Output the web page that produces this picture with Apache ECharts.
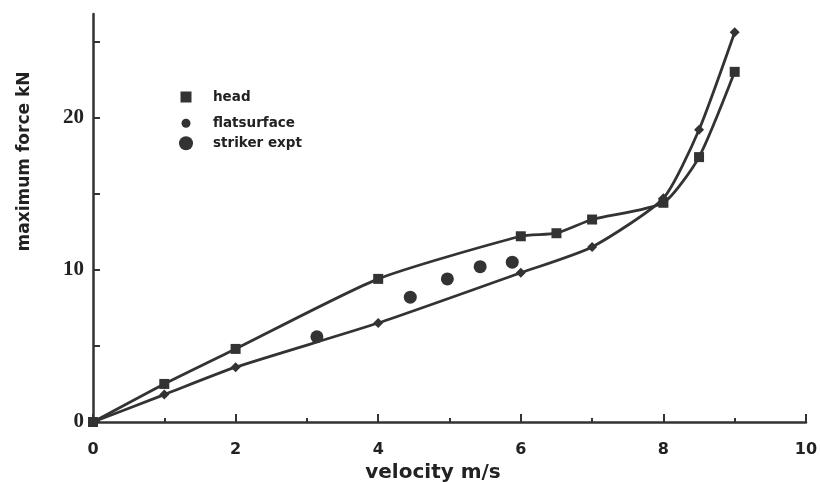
<!DOCTYPE html>
<html>
<head>
<meta charset="utf-8">
<script src="https://cdn.jsdelivr.net/npm/echarts@6/dist/echarts.min.js"></script>
<style>
html,body{margin:0;padding:0;background:#fff;}
#c{width:820px;height:482px;}
</style>
</head>
<body>
<div id="c"></div>
<script>
// Data
var headData = [[0,0],[1,2.5],[2,4.8],[4,9.4],[6,12.2],[6.5,12.4],[7,13.3],[8,14.4],[8.5,17.4],[9,23.0]];
var flatData = [[0,0],[1,1.8],[2,3.6],[4,6.5],[6,9.8],[7,11.5],[8,14.7],[8.5,19.2],[9,25.6]];
var strikerData = [[3.14,5.6],[4.45,8.2],[4.97,9.4],[5.43,10.2],[5.88,10.5]];
var xTickLabels = [0,2,4,6,8,10];
var yTickLabels = [0,10,20];
var yTicks = [0,5,10,15,20,25];

var ink = '#333';
var chart = echarts.init(document.getElementById('c'), null, {renderer:'canvas'});
var legendText = {color:'#222', fontFamily:'DejaVu Sans', fontWeight:'bold', fontSize:13.5};
chart.setOption({
  backgroundColor:'#ffffff',
  animation:false,
  grid:{left:93, right:14, top:14, bottom:60, containLabel:false, outerBoundsMode:'none'},
  legend:[
    {data:[{name:'head', icon:'rect'}], orient:'vertical', left:180.5, top:90, padding:0,
     itemWidth:11, itemHeight:11, textStyle:Object.assign({}, legendText, {lineHeight:11, padding:[0,0,0,16.5]})},
    {data:[{name:'flatsurface', icon:'circle'}], orient:'vertical', left:181.5, top:116.2, padding:0,
     itemWidth:9, itemHeight:9, textStyle:Object.assign({}, legendText, {lineHeight:9, padding:[0,0,0,17.5]})},
    {data:[{name:'striker expt', icon:'circle'}], orient:'vertical', left:179, top:136.3, padding:0,
     itemWidth:14, itemHeight:14, textStyle:Object.assign({}, legendText, {lineHeight:14, padding:[0,0,0,15]})}
  ],
  xAxis:{
    type:'value', min:0, max:10, interval:2,
    name:'velocity m/s', nameLocation:'middle', nameGap:33,
    nameTextStyle:{fontFamily:'DejaVu Sans', fontWeight:'bold', fontSize:20, color:'#222', padding:[0,33,0,0]},
    axisLine:{lineStyle:{color:ink, width:2.5}},
    axisTick:{inside:true, length:8, lineStyle:{color:ink, width:2}},
    minorTick:{show:true, splitNumber:2, length:4, lineStyle:{color:ink, width:2}},
    splitLine:{show:false},
    axisLabel:{margin:20, fontFamily:'DejaVu Sans', fontWeight:'bold', fontSize:16, color:'#222',
      customValues:xTickLabels}
  },
  yAxis:{
    type:'value', min:0, max:26.8, interval:5,
    name:'maximum force kN', nameLocation:'middle', nameGap:60,
    nameTextStyle:{fontFamily:'DejaVu Sans', fontWeight:'bold', fontSize:17, color:'#222', padding:[0,0,0,113]},
    axisLine:{lineStyle:{color:ink, width:2.5}},
    axisTick:{inside:true, length:7, lineStyle:{color:ink, width:2}, customValues:yTicks},
    splitLine:{show:false},
    axisLabel:{margin:9, fontFamily:'Liberation Serif', fontWeight:'bold', fontSize:21, color:'#222',
      padding:[6,0,0,0], customValues:yTickLabels}
  },
  series:[
    {name:'head', type:'line', data:headData, smooth:0.2, symbol:'rect', symbolSize:10, showAllSymbol:true,
     lineStyle:{color:ink, width:2.8}, itemStyle:{color:ink}, color:ink},
    {name:'flatsurface', type:'line', data:flatData, smooth:0.2, symbol:'diamond', symbolSize:10, showAllSymbol:true,
     lineStyle:{color:ink, width:2.8}, itemStyle:{color:ink}, color:ink},
    {name:'striker expt', type:'scatter', data:strikerData, symbol:'circle', symbolSize:13,
     itemStyle:{color:ink, opacity:1}, color:ink}
  ]
});
</script>
</body>
</html>
